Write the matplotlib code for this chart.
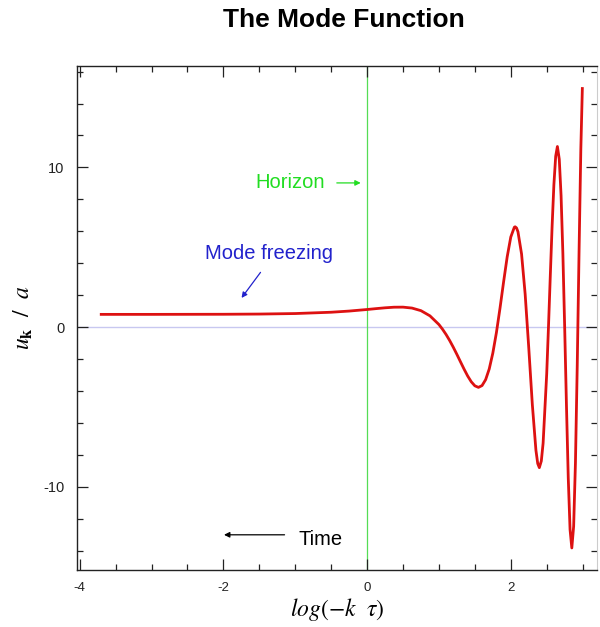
import matplotlib
matplotlib.use("Agg")
import matplotlib.pyplot as plt
from matplotlib.ticker import MultipleLocator, FixedLocator

plt.rcParams['axes.unicode_minus'] = False
plt.rcParams['mathtext.fontset'] = 'stix'
plt.rcParams['font.family'] = ['Liberation Sans', 'DejaVu Sans']

title = "The Mode Function"
x_label = r'$log(-k\ \ \tau)$'
y_label = r'$u_{\mathbf{k}}\ \ /\ \ a$'

# curve samples (x = log(-k tau), y = u_k / a)
log_k_tau = [-3.7, -3.0, -2.0, -1.5, -1.0, -0.5, -0.25, 0.0, 0.125, 0.25, 0.375, 0.5,
             0.625, 0.75, 0.875, 1.0, 1.05, 1.1, 1.15, 1.2, 1.25, 1.3, 1.35,
             1.4, 1.45, 1.5, 1.55, 1.6, 1.65, 1.7, 1.75, 1.8, 1.85, 1.9, 1.95, 2.0, 2.05,
             2.061, 2.08, 2.1, 2.15, 2.2, 2.25, 2.3, 2.35, 2.375, 2.3975, 2.425, 2.45,
             2.5, 2.525, 2.55, 2.575, 2.6, 2.625, 2.6488, 2.675, 2.7, 2.725, 2.75,
             2.775, 2.8, 2.825, 2.8495, 2.875, 2.9, 2.925, 2.95, 2.975, 2.996]
u_over_a = [0.80, 0.80, 0.807, 0.82, 0.852, 0.934, 1.007, 1.105, 1.160, 1.211, 1.249,
            1.253, 1.195, 1.032, 0.708, 0.164, -0.130, -0.463, -0.841, -1.259, -1.705,
            -2.169, -2.628, -3.058, -3.419, -3.673, -3.770, -3.658, -3.288, -2.618,
            -1.627, -0.342, 1.187, 2.832, 4.402, 5.642, 6.261, 6.283, 6.211, 5.972,
            4.583, 2.074, -1.276, -4.846, -7.707, -8.539, -8.796, -8.380, -7.262,
            -2.928, 0.053, 3.218, 6.297, 8.918, 10.70, 11.31, 10.512, 8.232, 4.614,
            0.014, -4.915, -9.439, -12.671, -13.823, -12.465, -8.490, -2.406, 4.650,
            11.16, 14.94]

x_ticks = [-4, -2, 0, 2]
x_tick_labels = ["-4", "-2", "0", "2"]
y_ticks = [-10, 0, 10]
y_tick_labels = ["-10", "0", "10"]

horizon_x = 0.0

fig = plt.figure(figsize=(6.0, 6.27), dpi=100)
ax = fig.add_axes([0.128, 0.091, 0.867, 0.804])

ax.axhline(0, color='#c8c8f0', lw=1.0, zorder=1)
ax.axvline(horizon_x, color='#55dd55', lw=0.9, zorder=1)
ax.plot(log_k_tau, u_over_a, color='#dd1111', lw=2.0, zorder=3, solid_joinstyle='round')

ax.set_xlim(-4.04, 3.20)
ax.set_ylim(-15.2, 16.36)

ax.xaxis.set_major_locator(FixedLocator(x_ticks))
ax.set_xticklabels(x_tick_labels)
ax.yaxis.set_major_locator(FixedLocator(y_ticks))
ax.set_yticklabels(y_tick_labels)
ax.xaxis.set_minor_locator(MultipleLocator(0.5))
ax.yaxis.set_minor_locator(MultipleLocator(2))
ax.tick_params(which='both', direction='in', top=True, right=True,
               colors='#222222', width=0.9)
ax.tick_params(which='major', length=8)
ax.tick_params(which='minor', length=4)
ax.tick_params(axis='x', which='major', pad=9, labelsize=9.5)
ax.tick_params(axis='y', which='major', pad=9, labelsize=10.5)
for s in ['left', 'bottom', 'top']:
    ax.spines[s].set_linewidth(1.0)
    ax.spines[s].set_color('#222222')
ax.spines['right'].set_color('#cccccc')

ax.set_xlabel(x_label, fontsize=17, labelpad=1)
ax.set_ylabel(y_label, fontsize=17, labelpad=6)
fig.suptitle(title, fontsize=19, fontweight='bold', x=0.573, y=0.988)

ax.text(-1.56, 9.03, "Horizon", color='#22dd22', fontsize=14.5, va='center', ha='left')
ax.annotate("", xy=(-0.05, 9.03), xytext=(-0.46, 9.03),
            arrowprops=dict(arrowstyle='-|>', color='#22dd22', lw=0.9, mutation_scale=8))

ax.text(-2.26, 4.64, "Mode freezing", color='#2222cc', fontsize=14.5, va='center', ha='left')
ax.annotate("", xy=(-1.77, 1.69), xytext=(-1.46, 3.57),
            arrowprops=dict(arrowstyle='-|>', color='#2222cc', lw=0.9, mutation_scale=8))

ax.text(-0.96, -13.3, "Time", color='black', fontsize=14.5, va='center', ha='left')
ax.annotate("", xy=(-2.03, -13.0), xytext=(-1.11, -13.0),
            arrowprops=dict(arrowstyle='-|>', color='black', lw=0.9, mutation_scale=8))

fig.savefig("out.png", dpi=100)
